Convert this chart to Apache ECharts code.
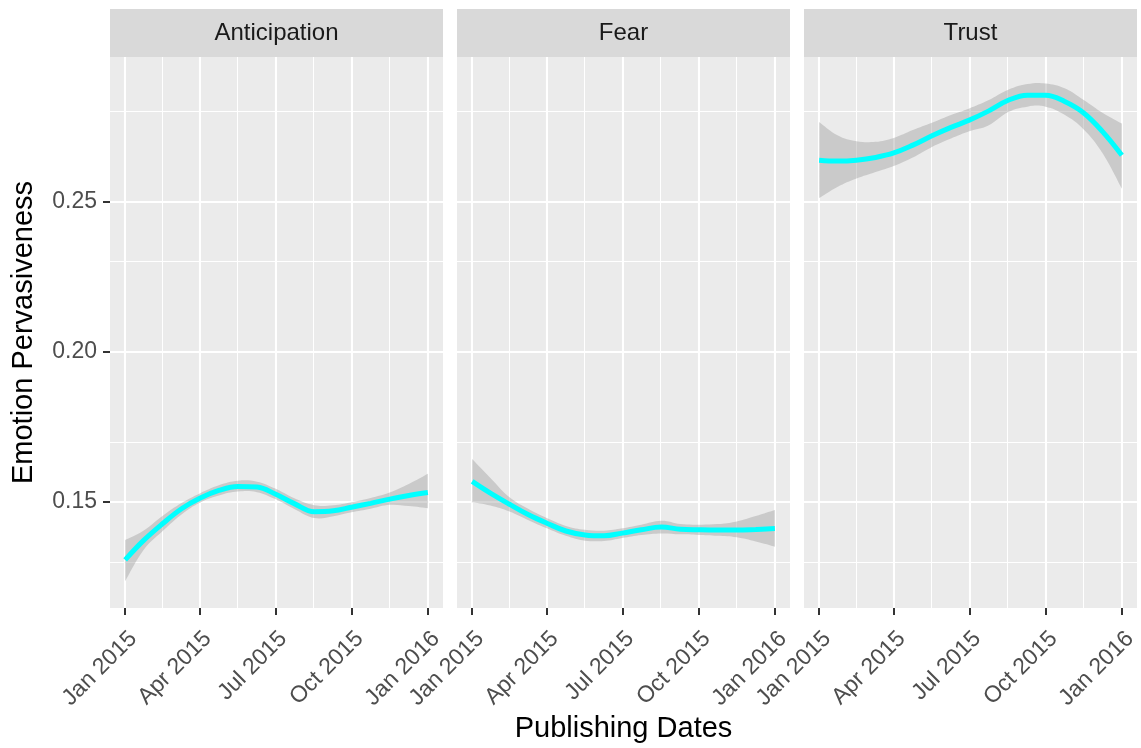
<!DOCTYPE html>
<html>
<head>
<meta charset="utf-8">
<script src="https://cdn.jsdelivr.net/npm/echarts@6/dist/echarts.min.js"></script>
<style>
  html, body { margin: 0; padding: 0; background: #ffffff; }
  #chart { width: 1141px; height: 748px; }
</style>
</head>
<body>
<div id="chart"></div>
<script>
// Facet names
const emotions = ['Anticipation', 'Fear', 'Trust'];

// Dates at which the smoothed trend is sampled
const sampleDates = [
  '2015-01-01', '2015-01-23', '2015-02-15', '2015-03-10', '2015-04-01',
  '2015-04-24', '2015-05-17', '2015-06-09', '2015-07-01', '2015-07-24',
  '2015-08-17', '2015-09-09', '2015-10-01', '2015-10-24', '2015-11-16',
  '2015-12-09', '2016-01-01'
];

// Anticipation: smoothed fit with confidence band
const anticipationFit   = [0.1308, 0.1372, 0.1428, 0.1478, 0.1513, 0.1539, 0.1552, 0.1550, 0.1527, 0.1495, 0.1468, 0.1471, 0.1483, 0.1496, 0.1510, 0.1522, 0.1532];
const anticipationLower = [0.1237, 0.1340, 0.1403, 0.1459, 0.1498, 0.1522, 0.1535, 0.1533, 0.1510, 0.1477, 0.1447, 0.1453, 0.1466, 0.1478, 0.1491, 0.1487, 0.1480];
const anticipationUpper = [0.1374, 0.1405, 0.1454, 0.1497, 0.1529, 0.1556, 0.1571, 0.1568, 0.1545, 0.1513, 0.1490, 0.1490, 0.1500, 0.1514, 0.1532, 0.1560, 0.1594];

// Fear
const fearFit   = [0.1569, 0.1530, 0.1493, 0.1458, 0.1430, 0.1404, 0.1391, 0.1388, 0.1397, 0.1408, 0.1417, 0.1410, 0.1408, 0.1407, 0.1407, 0.1409, 0.1412];
const fearLower = [0.1500, 0.1489, 0.1469, 0.1440, 0.1413, 0.1388, 0.1372, 0.1371, 0.1381, 0.1391, 0.1396, 0.1393, 0.1391, 0.1388, 0.1383, 0.1369, 0.1352];
const fearUpper = [0.1643, 0.1580, 0.1516, 0.1477, 0.1447, 0.1421, 0.1408, 0.1405, 0.1413, 0.1425, 0.1438, 0.1427, 0.1425, 0.1427, 0.1436, 0.1454, 0.1474];

// Trust
const trustFit   = [0.2637, 0.2634, 0.2637, 0.2646, 0.2661, 0.2687, 0.2718, 0.2746, 0.2770, 0.2800, 0.2836, 0.2853, 0.2853, 0.2832, 0.2794, 0.2731, 0.2653];
const trustLower = [0.2511, 0.2548, 0.2576, 0.2598, 0.2618, 0.2646, 0.2681, 0.2709, 0.2733, 0.2752, 0.2797, 0.2815, 0.2815, 0.2788, 0.2739, 0.2659, 0.2542];
const trustUpper = [0.2764, 0.2720, 0.2700, 0.2698, 0.2711, 0.2737, 0.2761, 0.2787, 0.2809, 0.2836, 0.2871, 0.2890, 0.2892, 0.2876, 0.2837, 0.2794, 0.2759];

// Axis breaks
const xBreaks = ['2015-01-01', '2015-04-01', '2015-07-01', '2015-10-01', '2016-01-01'];
const yBreaks = [0.15, 0.20, 0.25];
const yMinorBreaks = [0.125, 0.175, 0.225, 0.275];
const yLimits = [0.1148, 0.2980];

const monthNames = ['Jan', 'Feb', 'Mar', 'Apr', 'May', 'Jun', 'Jul', 'Aug', 'Sep', 'Oct', 'Nov', 'Dec'];

const fits   = [anticipationFit, fearFit, trustFit];
const lowers = [anticipationLower, fearLower, trustLower];
const uppers = [anticipationUpper, fearUpper, trustUpper];

// Panel layout
const FONT = "'Liberation Sans', Arial, Helvetica, sans-serif";
const panelLeft = [110, 457, 804];
const panelWidth = 333;
const panelTop = 57;
const panelHeight = 551;
const stripTop = 9;
const stripHeight = 48;

const toTime = s => Date.parse(s + 'T00:00:00Z');
const sampleTimes = sampleDates.map(toTime);
const xBreakTimes = xBreaks.map(toTime);
const xMinorTimes = xBreakTimes.slice(1).map((t, i) => (t + xBreakTimes[i]) / 2);
const xSpan = xBreakTimes[xBreakTimes.length - 1] - xBreakTimes[0];
const xMin = xBreakTimes[0] - 0.05 * xSpan;
const xMax = xBreakTimes[xBreakTimes.length - 1] + 0.05 * xSpan;

const formatDate = v => {
  const d = new Date(v);
  return monthNames[d.getUTCMonth()] + ' ' + d.getUTCFullYear();
};

// Cubic Bezier segments through a list of pixel points (Catmull-Rom style tangents)
function smoothSegments(pts, tension) {
  let d = '';
  for (let k = 0; k < pts.length - 1; k++) {
    const p0 = pts[Math.max(k - 1, 0)], p1 = pts[k], p2 = pts[k + 1], p3 = pts[Math.min(k + 2, pts.length - 1)];
    const c1 = [p1[0] + (p2[0] - p0[0]) * tension, p1[1] + (p2[1] - p0[1]) * tension];
    const c2 = [p2[0] - (p3[0] - p1[0]) * tension, p2[1] - (p3[1] - p1[1]) * tension];
    d += ' C' + c1[0] + ',' + c1[1] + ' ' + c2[0] + ',' + c2[1] + ' ' + p2[0] + ',' + p2[1];
  }
  return d;
}

// Confidence ribbon: smooth upper edge, straight end, smooth lower edge back
function renderBand(params, api) {
  if (params.dataIndex !== 0) return null;
  const n = sampleTimes.length;
  const upperPts = [], lowerPts = [];
  for (let k = 0; k < n; k++) {
    upperPts.push(api.coord([api.value(0, k), api.value(2, k)]));
    lowerPts.push(api.coord([api.value(0, k), api.value(1, k)]));
  }
  lowerPts.reverse();
  const d = 'M' + upperPts[0][0] + ',' + upperPts[0][1] + smoothSegments(upperPts, 0.2) +
    ' L' + lowerPts[0][0] + ',' + lowerPts[0][1] + smoothSegments(lowerPts, 0.2) + ' Z';
  return {
    type: 'path',
    shape: { pathData: d },
    style: { fill: 'rgba(153,153,153,0.4)', stroke: null },
    silent: true
  };
}

const grids = [], xAxes = [], yAxes = [], series = [], graphics = [];

emotions.forEach((name, i) => {
  grids.push({
    left: panelLeft[i], top: panelTop, width: panelWidth, height: panelHeight,
    containLabel: false, outerBoundsMode: 'none',
    show: true, backgroundColor: '#EBEBEB', borderWidth: 0
  });

  xAxes.push({
    type: 'value', gridIndex: i, min: xMin, max: xMax,
    axisLine: { show: false },
    splitLine: { show: false },
    axisTick: { show: true, customValues: xBreakTimes, length: 7, lineStyle: { color: '#333333', width: 2 } },
    axisLabel: {
      show: true, customValues: xBreakTimes, rotate: 45, margin: 19,
      align: 'right', verticalAlign: 'top', hideOverlap: false,
      fontSize: 23, color: '#4D4D4D', fontFamily: FONT,
      formatter: formatDate
    }
  });

  yAxes.push({
    type: 'value', gridIndex: i, min: yLimits[0], max: yLimits[1],
    axisLine: { show: false },
    splitLine: { show: false },
    axisTick: { show: i === 0, customValues: yBreaks, length: 7, lineStyle: { color: '#333333', width: 2 } },
    axisLabel: {
      show: i === 0, customValues: yBreaks, margin: 13,
      fontSize: 23, color: '#4D4D4D', fontFamily: FONT,
      formatter: v => v.toFixed(2)
    }
  });

  // Background grid lines (white, major thicker than minor)
  const gridLines = [];
  xBreakTimes.forEach(t => gridLines.push({ xAxis: t, lineStyle: { width: 2.1 } }));
  xMinorTimes.forEach(t => gridLines.push({ xAxis: t, lineStyle: { width: 1.05 } }));
  yBreaks.forEach(v => gridLines.push({ yAxis: v, lineStyle: { width: 2.1 } }));
  yMinorBreaks.forEach(v => gridLines.push({ yAxis: v, lineStyle: { width: 1.05 } }));

  const lower = lowers[i], upper = uppers[i], fit = fits[i];

  // Confidence band
  series.push({
    type: 'custom', xAxisIndex: i, yAxisIndex: i,
    data: sampleTimes.map((t, k) => [t, lower[k], upper[k]]),
    encode: { x: 0, y: [1, 2] },
    renderItem: renderBand,
    clip: true, silent: true, z: 2,
    markLine: {
      z: 1, silent: true, animation: false, symbol: ['none', 'none'],
      label: { show: false },
      lineStyle: { color: '#FFFFFF', type: 'solid', opacity: 1 },
      emphasis: { disabled: true },
      data: gridLines
    }
  });
  // Smoothed trend line
  series.push({
    type: 'line', xAxisIndex: i, yAxisIndex: i,
    data: sampleTimes.map((t, k) => [t, fit[k]]),
    smooth: 0.4, symbol: 'none', silent: true, z: 3,
    lineStyle: { color: '#00FFFF', width: 5 }
  });

  // Facet strip
  graphics.push({
    type: 'rect', silent: true,
    shape: { x: panelLeft[i], y: stripTop, width: panelWidth, height: stripHeight },
    style: { fill: '#D9D9D9' }
  });
  graphics.push({
    type: 'text', silent: true,
    x: panelLeft[i] + panelWidth / 2, y: stripTop + stripHeight / 2,
    style: {
      text: name, fill: '#1A1A1A', font: '24px ' + FONT,
      textAlign: 'center', textVerticalAlign: 'middle', align: 'center', verticalAlign: 'middle'
    }
  });
});

// Axis titles
const plotCenterX = (panelLeft[0] + panelLeft[2] + panelWidth) / 2;
graphics.push({
  type: 'text', silent: true, x: plotCenterX, y: 729,
  style: {
    text: 'Publishing Dates', fill: '#000000', font: '29px ' + FONT,
    textAlign: 'center', textVerticalAlign: 'middle', align: 'center', verticalAlign: 'middle'
  }
});
graphics.push({
  type: 'text', silent: true, x: 24, y: panelTop + panelHeight / 2, rotation: Math.PI / 2,
  style: {
    text: 'Emotion Pervasiveness', fill: '#000000', font: '29px ' + FONT,
    textAlign: 'center', textVerticalAlign: 'middle', align: 'center', verticalAlign: 'middle'
  }
});

const chart = echarts.init(document.getElementById('chart'), null, { renderer: 'canvas' });
chart.setOption({
  animation: false,
  backgroundColor: '#FFFFFF',
  grid: grids,
  xAxis: xAxes,
  yAxis: yAxes,
  series: series,
  graphic: graphics
});
</script>
</body>
</html>
